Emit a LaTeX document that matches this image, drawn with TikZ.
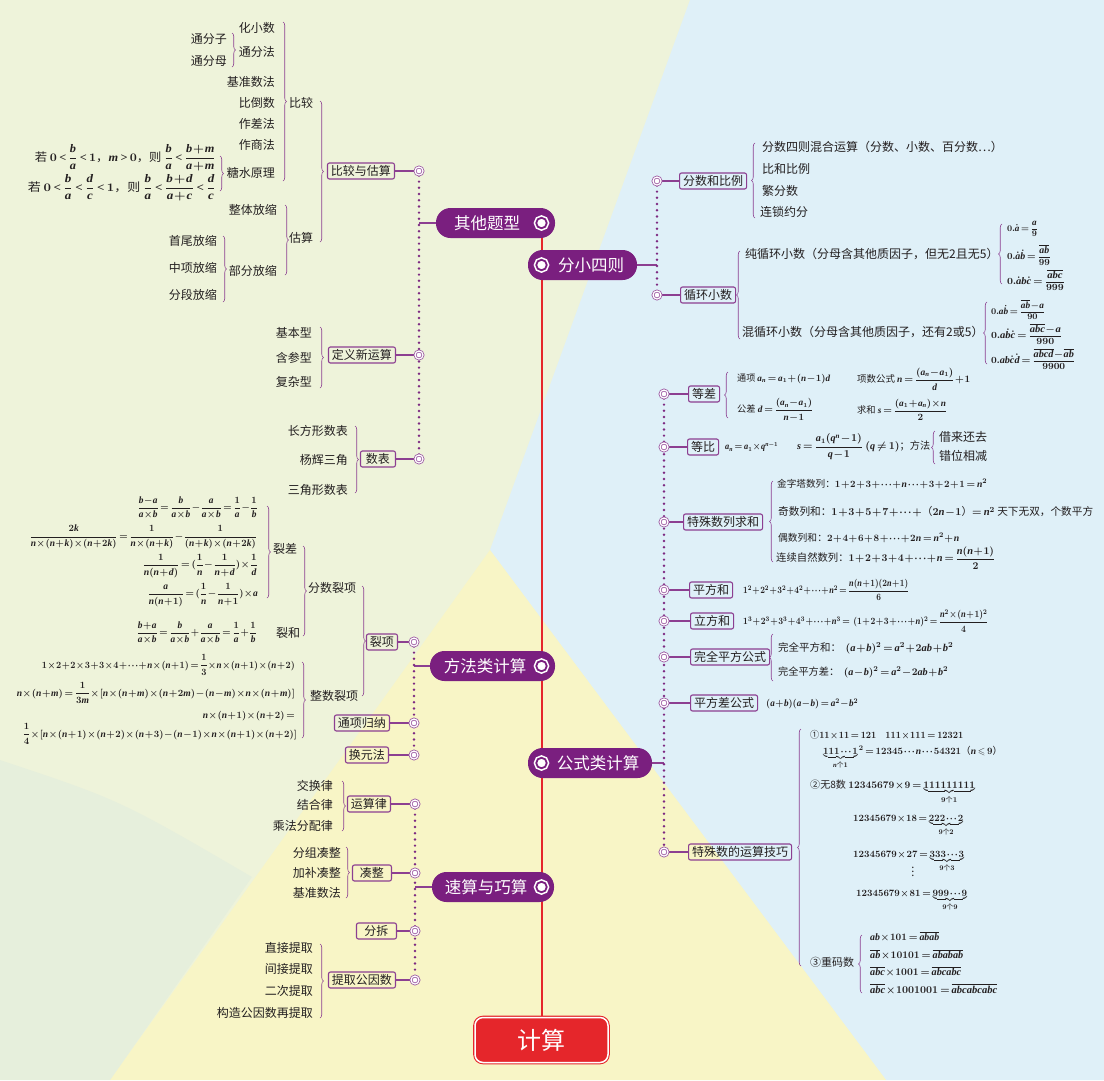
\documentclass[tikz,border=0pt]{standalone}
\usepackage{amsmath,amssymb}
\usepackage{fontspec}
\newfontfamily\cjk{Noto Sans CJK SC}
\newfontfamily\tms{Liberation Serif}[NFSSFamily=lsr]
\DeclareSymbolFont{letters}{TU}{lsr}{\bfdefault}{\itdefault}
\SetSymbolFont{letters}{bold}{TU}{lsr}{\bfdefault}{\itdefault}
\DeclareSymbolFont{operators}{TU}{lsr}{\bfdefault}{n}
\SetSymbolFont{operators}{bold}{TU}{lsr}{\bfdefault}{n}
\DeclareSymbolFont{cmops}{OT1}{cmr}{bx}{n}
\DeclareMathAccent{\dot}{\mathalpha}{cmops}{"5F}
\mathcode`.="002E
\everymath{\medmuskip=1mu\thickmuskip=3mu\thinmuskip=1.5mu}
\newsavebox\fitbox
\newcommand\fitw[2]{\sbox\fitbox{#2}\pgfmathsetmacro\fitfx{#1/\wd\fitbox}\pgfmathsetmacro\fitfy{min(max(\fitfx,0.88),1.05)}\scalebox{\fitfx}[\fitfy]{\usebox\fitbox}}
\usetikzlibrary{decorations.pathreplacing}
\pgfdeclarelayer{bgzero}
\pgfdeclarelayer{bgone}
\pgfsetlayers{bgzero,bgone,main}
\definecolor{mpur}{HTML}{7A1F7F}
\definecolor{bpur}{HTML}{8C3F91}
\definecolor{lpur}{HTML}{9D5AA3}
\definecolor{dotc}{HTML}{7D2A82}
\definecolor{trk}{HTML}{E5262B}
\definecolor{txt}{HTML}{231F20}
\definecolor{bgG}{HTML}{EEF3DA}
\definecolor{bgB}{HTML}{DFF0F8}
\definecolor{bgY}{HTML}{F8F5C6}
\definecolor{bgT}{HTML}{E6EFDC}
\tikzset{
 lbl/.style={font=\cjk\fontsize{12}{14}\selectfont, text=txt, inner sep=0pt},
 fm/.style={font=\cjk\fontsize{11}{12}\selectfont\boldmath, text=txt, inner sep=0pt},
 mfm/.style={font=\cjk\fontsize{10.5}{11}\selectfont\boldmath, text=txt, inner sep=0pt},
 sfm/.style={font=\cjk\fontsize{9.5}{10}\selectfont\boldmath, text=txt, inner sep=0pt},
 bx/.style={draw=bpur, line width=1.1pt, rounded corners=2pt, font=\cjk\fontsize{12}{14}\selectfont, text=txt, inner xsep=3.5pt, inner ysep=0pt, minimum height=16pt},
 sc/.style={circle, minimum size=8pt, inner sep=0pt, fill=white, draw=lpur, line width=0.8pt, double=white, double distance=1.2pt},
 br/.style={decorate, decoration={brace, amplitude=3.5pt}, draw=bpur, line width=0.6pt},
 conn/.style={draw=bpur, line width=1.2pt},
 dotl/.style={draw=dotc, line width=2.7pt, line cap=round, dash pattern=on 0pt off 6.2pt},
 trunkline/.style={draw=trk, line width=2pt},
 mainbox/.style={fill=mpur, rounded corners=14.5pt, minimum height=30pt, inner sep=0pt},
 maintxt/.style={text=white, font=\cjk\fontsize{16.5}{18}\selectfont, inner sep=0pt},
 icon/.style={circle, minimum size=10.5pt, inner sep=0pt, fill=white, draw=mpur, line width=1.8pt, preaction={draw=white, line width=5pt}},
 jsbox/.style={fill=trk, draw=white, line width=1.5pt, rounded corners=8pt, minimum width=133pt, minimum height=45pt, text=white, font=\cjk\fontsize{24}{26}\selectfont, preaction={draw=trk, line width=3.6pt}},
}
\begin{document}
\begin{tikzpicture}[x=1pt,y=-1pt]
\useasboundingbox (0,0) rectangle (1104,1080);
\begin{pgfonlayer}{bgzero}
\fill[fill=bgG] (0,0) rectangle (1104,1080);
\fill[fill=bgB] (690,0) -- (1104,0) -- (1104,1080) -- (886,1080) -- (490,550) -- cycle;
\fill[fill=bgY] (490,550) -- (886,1080) -- (110,1080) -- cycle;
\fill[fill=bgT] (0,760) .. controls (120,800) .. (252,877) -- (110,1080) -- (0,1080) -- cycle;
\end{pgfonlayer}

% ===== 其他题型 branch =====
\node[lbl,anchor=east] (t1) at (275,28) {化小数};
\node[lbl,anchor=east] (t2) at (275,52) {通分法};
\node[lbl,anchor=east] (t3) at (227,39) {通分子};
\node[lbl,anchor=east] (t4) at (227,61) {通分母};
\node[lbl,anchor=east] (t5) at (275,82) {基准数法};
\node[lbl,anchor=east] (t6) at (275,103) {比倒数};
\node[lbl,anchor=east] (t7) at (275,124) {作差法};
\node[lbl,anchor=east] (t8) at (275,145) {作商法};
\node[lbl,anchor=east] (t9) at (275,173) {糖水原理};
\node[fm,anchor=east] (f1) at (216,158) {\fitw{181}{若 $0<\dfrac{b}{a}<1$，$m>0$，则 $\dfrac{b}{a}<\dfrac{b+m}{a+m}$}};
\node[fm,anchor=east] (f2) at (216,188) {\fitw{188}{若 $0<\dfrac{b}{a}<\dfrac{d}{c}<1$，则 $\dfrac{b}{a}<\dfrac{b+d}{a+c}<\dfrac{d}{c}$}};
\node[lbl,anchor=west] (t10) at (289,103) {比较};
\node[lbl,anchor=east] (t11) at (277,210) {整体放缩};
\node[lbl,anchor=east] (t12) at (277,271) {部分放缩};
\node[lbl,anchor=west] (t13) at (289,238) {估算};
\node[lbl,anchor=east] (t14) at (217,241) {首尾放缩};
\node[lbl,anchor=east] (t15) at (217,268) {中项放缩};
\node[lbl,anchor=east] (t16) at (217,295) {分段放缩};
\node[bx,anchor=east] (b1) at (395,171) {比较与估算};
\node[sc] (c1) at (419,171) {};
\node[lbl,anchor=east] (t17) at (312,333) {基本型};
\node[lbl,anchor=east] (t18) at (312,358) {含参型};
\node[lbl,anchor=east] (t19) at (312,382) {复杂型};
\node[bx,anchor=east] (b2) at (396,355) {定义新运算};
\node[sc] (c2) at (419,355) {};
\node[lbl,anchor=east] (t20) at (348,431) {长方形数表};
\node[lbl,anchor=east] (t21) at (348,460) {杨辉三角};
\node[lbl,anchor=east] (t22) at (348,490) {三角形数表};
\node[bx,anchor=east,minimum width=35pt] (b3) at (396,459) {数表};
\node[sc] (c3) at (419,459) {};
\draw[br] (232,33) -- (232,67);
\draw[br] (283,22) -- (283,181);
\draw[br] (220,156) -- (220,191);
\draw[br] (285,205) -- (285,275);
\draw[br] (223,236) -- (223,302);
\draw[br] (320,101) -- (320,242);
\draw[br] (320,327) -- (320,388);
\draw[br] (355,426) -- (355,493);

% ===== 方法类计算 branch =====
\node[fm,anchor=east] (g1) at (258,508) {\fitw{120}{$\dfrac{b-a}{a\times b}=\dfrac{b}{a\times b}-\dfrac{a}{a\times b}=\dfrac{1}{a}-\dfrac{1}{b}$}};
\node[fm,anchor=east] (g2) at (257,537) {\fitw{227}{$\dfrac{2k}{n\times(n+k)\times(n+2k)}=\dfrac{1}{n\times(n+k)}-\dfrac{1}{(n+k)\times(n+2k)}$}};
\node[fm,anchor=east] (g3) at (258,566) {\fitw{115}{$\dfrac{1}{n(n+d)}=(\dfrac{1}{n}-\dfrac{1}{n+d})\times\dfrac{1}{d}$}};
\node[fm,anchor=east] (g4) at (258,595) {\fitw{110}{$\dfrac{a}{n(n+1)}=(\dfrac{1}{n}-\dfrac{1}{n+1})\times a$}};
\node[lbl,anchor=west] (u1) at (273,549) {裂差};
\node[fm,anchor=east] (g5) at (257,633) {\fitw{120}{$\dfrac{b+a}{a\times b}=\dfrac{b}{a\times b}+\dfrac{a}{a\times b}=\dfrac{1}{a}+\dfrac{1}{b}$}};
\node[lbl,anchor=west] (u2) at (276,633) {裂和};
\node[lbl,anchor=west] (u3) at (308,588) {分数裂项};
\node[fm,anchor=east] (g6) at (295,665) {\fitw{253}{$1\times2+2\times3+3\times4+\cdots+n\times(n+1)=\dfrac{1}{3}\times n\times(n+1)\times(n+2)$}};
\node[fm,anchor=east] (g7) at (295,693) {\fitw{278}{$n\times(n+m)=\dfrac{1}{3m}\times[n\times(n+m)\times(n+2m)-(n-m)\times n\times(n+m)]$}};
\node[fm,anchor=east] (g8) at (295,716) {\fitw{92}{$n\times(n+1)\times(n+2)=$}};
\node[fm,anchor=east] (g9) at (297,734) {\fitw{274}{$\dfrac{1}{4}\times[n\times(n+1)\times(n+2)\times(n+3)-(n-1)\times n\times(n+1)\times(n+2)]$}};
\node[lbl,anchor=west] (u4) at (310,696) {整数裂项};
\draw[br] (267,506) -- (267,598);
\draw[br] (303,546) -- (303,636);
\draw[br] (302,662) -- (302,738);
\draw[br] (362,586) -- (362,696);
\node[bx,anchor=east] (b6) at (398,642) {裂项};
\node[sc] (c6) at (414,642) {};
\node[bx,anchor=east] (b7) at (390,723) {通项归纳};
\node[sc] (c7) at (414,723) {};
\node[bx,anchor=east] (b8) at (389,755) {换元法};
\node[sc] (c8) at (414,755) {};

% ===== 速算与巧算 branch =====
\node[lbl,anchor=east] (v1) at (333,786) {交换律};
\node[lbl,anchor=east] (v2) at (333,805) {结合律};
\node[lbl,anchor=east] (v3) at (333,826) {乘法分配律};
\node[bx,anchor=east] (b9) at (391,804) {运算律};
\node[sc] (c9) at (415,804) {};
\node[lbl,anchor=east] (v4) at (341,853) {分组凑整};
\node[lbl,anchor=east] (v5) at (341,873) {加补凑整};
\node[lbl,anchor=east] (v6) at (341,893) {基准数法};
\node[bx,anchor=east,minimum width=39pt] (b10) at (392,873) {凑整};
\node[sc] (c10) at (415,873) {};
\node[bx,anchor=east,minimum width=40pt] (b11) at (397,931) {分拆};
\node[sc] (c11) at (415,931) {};
\node[lbl,anchor=east] (v7) at (313,948) {直接提取};
\node[lbl,anchor=east] (v8) at (313,969) {间接提取};
\node[lbl,anchor=east] (v9) at (313,991) {二次提取};
\node[lbl,anchor=east] (v10) at (313,1013) {构造公因数再提取};
\node[bx,anchor=east] (b12) at (396,980) {提取公因数};
\node[sc] (c12) at (415,980) {};
\draw[br] (342,781) -- (342,831);
\draw[br] (346,847) -- (346,898);
\draw[br] (320,944) -- (320,1018);

% ===== 分小四则 branch =====
\node[bx,anchor=west] (b4) at (679,181) {分数和比例};
\node[sc] (c4) at (657,181) {};
\node[bx,anchor=west] (b5) at (680,295) {循环小数};
\node[sc] (c5) at (657,295) {};
\draw[br] (755,218) -- (755,143);
\node[lbl,anchor=west] (r1) at (762,147) {分数四则混合运算（分数、小数、百分数…）};
\node[lbl,anchor=west] (r2) at (762,169) {比和比例};
\node[lbl,anchor=west] (r3) at (762,191) {繁分数};
\node[lbl,anchor=west] (r4) at (760,212) {连锁约分};
\draw[br] (740,339) -- (740,251);
\node[lbl,anchor=west] (r5) at (745,254) {纯循环小数（分母含其他质因子，但无2且无5）};
\node[lbl,anchor=west] (r6) at (742,332) {混循环小数（分母含其他质因子，还有2或5）};
\draw[br] (1002,284) -- (1002,224);
\node[sfm,anchor=west] (r7) at (1007,229) {\fitw{31}{$0.\dot{a}=\dfrac{a}{9}$}};
\node[sfm,anchor=west] (r8) at (1007,255) {\fitw{44}{$0.\dot{a}\dot{b}=\dfrac{\overline{ab}}{99}$}};
\node[sfm,anchor=west] (r9) at (1007,280) {\fitw{58}{$0.\dot{a}b\dot{c}=\dfrac{\overline{abc}}{999}$}};
\draw[br] (987,364) -- (987,302);
\node[sfm,anchor=west] (r10) at (991,310) {\fitw{54}{$0.a\dot{b}=\dfrac{\overline{ab}-a}{90}$}};
\node[sfm,anchor=west] (r11) at (991,334) {\fitw{71}{$0.a\dot{b}\dot{c}=\dfrac{\overline{abc}-a}{990}$}};
\node[sfm,anchor=west] (r12) at (991,359) {\fitw{84}{$0.ab\dot{c}\dot{d}=\dfrac{\overline{abcd}-\overline{ab}}{9900}$}};

% ===== 公式类计算 branch =====
\node[sc] (d1) at (664,394) {};
\node[bx,anchor=west] (e1) at (688,394) {等差};
\node[sc] (d2) at (664,447) {};
\node[bx,anchor=west] (e2) at (687,447) {等比};
\node[sc] (d3) at (664,522) {};
\node[bx,anchor=west] (e3) at (683,522) {特殊数列求和};
\node[sc] (d4) at (664,590) {};
\node[bx,anchor=west] (e4) at (689,590) {平方和};
\node[sc] (d5) at (664,621) {};
\node[bx,anchor=west] (e5) at (690,621) {立方和};
\node[sc] (d6) at (664,657) {};
\node[bx,anchor=west] (e6) at (690,657) {完全平方公式};
\node[sc] (d7) at (664,703) {};
\node[bx,anchor=west] (e7) at (690,703) {平方差公式};
\node[sc] (d8) at (664,852) {};
\node[bx,anchor=west] (e8) at (688,852) {特殊数的运算技巧};

\draw[br] (728,418) -- (728,372);
\node[mfm,anchor=west] (h1) at (737,379) {\fitw{93}{通项 $a_n=a_1+(n-1)d$}};
\node[mfm,anchor=west] (h2) at (857,379) {\fitw{113}{项数公式 $n=\dfrac{(a_n-a_1)}{d}+1$}};
\node[mfm,anchor=west] (h3) at (737,410) {\fitw{76}{公差 $d=\dfrac{(a_n-a_1)}{n-1}$}};
\node[mfm,anchor=west] (h4) at (857,410) {\fitw{90}{求和 $s=\dfrac{(a_1+a_n)\times n}{2}$}};
\node[mfm,anchor=west] (h5) at (725,447) {\fitw{53}{$a_n=a_1\times q^{n-1}$}};
\node[mfm,anchor=west] (h6) at (797,447) {\fitw{133}{$s=\dfrac{a_1(q^n-1)}{q-1}$ $(q\neq1)$；方法}};
\draw[br] (935,464) -- (935,431);
\node[lbl,anchor=west] (h7) at (939,437) {借来还去};
\node[lbl,anchor=west] (h8) at (939,456) {错位相减};
\draw[br] (773,562) -- (773,481);
\node[fm,anchor=west] (h9) at (777,484) {\fitw{210}{金字塔数列：$1+2+3+\cdots+n\cdots+3+2+1=n^2$}};
\node[fm,anchor=west] (h10) at (778,512) {\fitw{315}{奇数列和：$1+3+5+7+\cdots+$（$2n-1$）$=n^2$ 天下无双，个数平方}};
\node[fm,anchor=west] (h11) at (778,538) {\fitw{181}{偶数列和：$2+4+6+8+\cdots+2n=n^2+n$}};
\node[fm,anchor=west] (h12) at (776,558) {\fitw{219}{连续自然数列：$1+2+3+4+\cdots+n=\dfrac{n(n+1)}{2}$}};
\node[fm,anchor=west] (h13) at (743,590) {\fitw{166}{$1^2+2^2+3^2+4^2+\cdots+n^2=\dfrac{n(n+1)(2n+1)}{6}$}};
\node[fm,anchor=west] (h14) at (743,621) {\fitw{245}{$1^3+2^3+3^3+4^3+\cdots+n^3=\ (1+2+3+\cdots+n)^2=\dfrac{n^2\times(n+1)^2}{4}$}};
\draw[br] (773,681) -- (773,634);
\node[fm,anchor=west] (h15) at (778,648) {\fitw{175}{完全平方和：\ \ $(a+b)^2=a^2+2ab+b^2$}};
\node[fm,anchor=west] (h16) at (778,672) {\fitw{170}{完全平方差：\ \ $(a-b)^2=a^2-2ab+b^2$}};
\node[fm,anchor=west] (h17) at (766,704) {\fitw{92}{$(a+b)(a-b)=a^2-b^2$}};

\draw[br] (801,966) -- (801,729);
\node[fm,anchor=base west] (k1) at (810,738) {\fitw{153}{①$11\times11=121\quad111\times111=12321$}};
\node[fm,anchor=base west] (k2) at (823,754) {\fitw{179}{$\underbrace{111\cdots1}_{n\text{个}1}{}^2=12345\cdots n\cdots54321$（$n\leqslant9$）}};
\node[fm,anchor=base west] (k3) at (810,788) {\fitw{165}{②无8数 $12345679\times9=\underbrace{111111111}_{9\text{个}1}$}};
\node[fm,anchor=base west] (k4) at (853,821) {\fitw{110}{$12345679\times18=\underbrace{222\cdots2}_{9\text{个}2}$}};
\node[fm,anchor=base west] (k5) at (853,857) {\fitw{111}{$12345679\times27=\underbrace{333\cdots3}_{9\text{个}3}$}};
\node[fm] (k6) at (913,869) {$\vdots$};
\node[fm,anchor=base west] (k7) at (856,896) {\fitw{111}{$12345679\times81=\underbrace{999\cdots9}_{9\text{个}9}$}};
\node[fm,anchor=west] (k8) at (810,962) {③重码数};
\draw[br] (862,993) -- (862,935);
\node[fm,anchor=west] (k9) at (870,937) {\fitw{69}{$ab\times101=\overline{abab}$}};
\node[fm,anchor=west] (k10) at (870,955) {\fitw{93}{$\overline{ab}\times10101=\overline{ababab}$}};
\node[fm,anchor=west] (k11) at (870,972) {\fitw{91}{$\overline{abc}\times1001=\overline{abcabc}$}};
\node[fm,anchor=west] (k12) at (870,989) {\fitw{127}{$\overline{abc}\times1001001=\overline{abcabcabc}$}};

% ===== main nodes =====
\node[mainbox,minimum width=119pt] (m1) at (495.5,223) {};
\node[maintxt] (m1t) at (487,223) {其他题型};
\node[icon] (m1i) at (541.5,223) {};
\node[mainbox,minimum width=109pt] (m2) at (582.5,265) {};
\node[maintxt] (m2t) at (591,265) {分小四则};
\node[icon] (m2i) at (541.5,265) {};
\node[mainbox,minimum width=125pt] (m3) at (492.5,666) {};
\node[maintxt] (m3t) at (485,666) {方法类计算};
\node[icon] (m3i) at (541.5,666) {};
\node[mainbox,minimum width=124pt] (m4) at (590,763) {};
\node[maintxt] (m4t) at (598,763) {公式类计算};
\node[icon] (m4i) at (541.5,763) {};
\node[mainbox,minimum width=122pt] (m5) at (493,887) {};
\node[maintxt] (m5t) at (486,887) {速算与巧算};
\node[icon] (m5i) at (541.5,887) {};
\node[jsbox] (js) at (541.5,1040) {计算};

\begin{pgfonlayer}{bgone}
\draw[trunkline] (m1.south -| js.north) -- (js.north);
\draw[conn] (m1.west) -- (m1.west -| c1);
\draw[conn] (m2.east) -- (m2.east -| c4);
\draw[conn] (m3.west) -- (m3.west -| c6);
\draw[conn] (m4.east) -- (m4.east -| d1);
\draw[conn] (m5.west) -- (m5.west -| c9);
\draw[dotl] (c1) -- (c3);
\draw[dotl] (c4) -- (c5);
\draw[dotl] (c6) -- (c8);
\draw[dotl] (d1) -- (d8);
\draw[dotl] (c9) -- (c12);
\foreach \a/\b in {b1/c1,b2/c2,b3/c3,b4/c4,b5/c5,b6/c6,b7/c7,b8/c8,b9/c9,b10/c10,b11/c11,b12/c12,e1/d1,e2/d2,e3/d3,e4/d4,e5/d5,e6/d6,e7/d7,e8/d8}
  \draw[conn] (\a) -- (\b);
\end{pgfonlayer}
\end{tikzpicture}
\end{document}
